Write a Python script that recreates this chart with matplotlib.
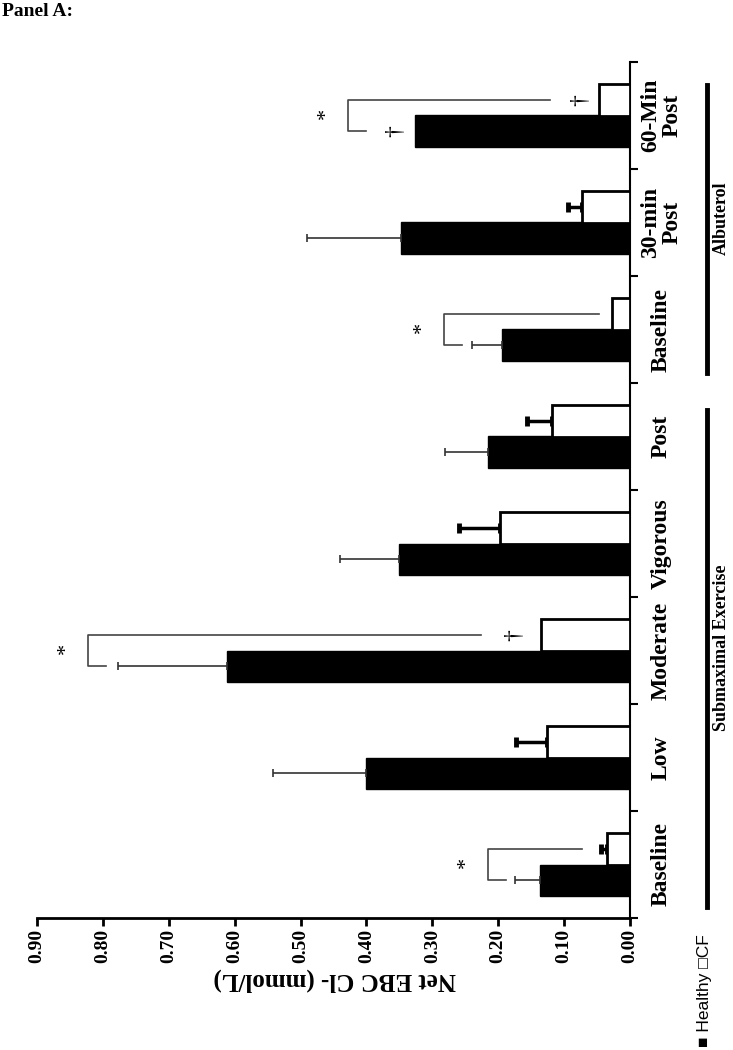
import numpy as np
import matplotlib
matplotlib.use("Agg")
import matplotlib.pyplot as plt
from matplotlib.lines import Line2D

# data
categories = ["Baseline", "Low", "Moderate", "Vigorous", "Post",
              "Baseline", "30-min\nPost", "60-Min\nPost"]
healthy = [0.137, 0.400, 0.611, 0.350, 0.215, 0.194, 0.348, 0.326]
healthy_err = [0.038, 0.142, 0.166, 0.090, 0.066, 0.046, 0.142, 0.0]
cf = [0.035, 0.126, 0.135, 0.197, 0.118, 0.027, 0.073, 0.047]
cf_err = [0.009, 0.047, 0.0, 0.063, 0.038, 0.0, 0.021, 0.0]
value_ticks = [0.0, 0.1, 0.2, 0.3, 0.4, 0.5, 0.6, 0.7, 0.8, 0.9]

# significance brackets: (category, bracket x, cf line end, healthy line end)
brackets = [(0, 0.2155, 0.073, 0.188),
            (2, 0.822, 0.226, 0.795),
            (5, 0.282, 0.047, 0.255),
            (7, 0.428, 0.121, 0.400)]
# daggers: (category, series, x)
daggers = [(2, "cf", 0.175), (7, "cf", 0.074), (7, "healthy", 0.355)]

serif = "Liberation Serif"
W, H = 733, 1050

fig = plt.figure(figsize=(W / 100, H / 100), dpi=100)
ax = fig.add_axes([37 / W, 1 - 918 / H, (630 - 37) / W, (918 - 62) / H])

n = len(categories)
pos = np.arange(n) + 0.5
off = 0.145
bh = 0.29

ax.barh(pos - off, healthy, height=bh, color="black", edgecolor="black", lw=1)
ax.barh(pos + off, cf, height=bh, color="white", edgecolor="black", lw=2, zorder=3)

for i in range(n):
    if healthy_err[i] > 0:
        ax.errorbar(healthy[i], pos[i] - off, xerr=[[0], [healthy_err[i]]],
                    fmt="none", ecolor="#333333", elinewidth=1.2, capsize=3, capthick=1.2)
    if cf_err[i] > 0:
        ax.errorbar(cf[i], pos[i] + off, xerr=[[0], [cf_err[i]]],
                    fmt="none", ecolor="black", elinewidth=2.5, capsize=3.5, capthick=3.5,
                    zorder=2)

for c, xv, xt, xb in brackets:
    yt = pos[c] + off
    yb = pos[c] - off
    ax.plot([xt, xv, xv, xb], [yt, yt, yb, yb], color="#444444", lw=1.2, clip_on=False)
    ax.text(xv + 0.033, pos[c] + 0.02, "*", rotation=90, ha="center", va="center",
            fontsize=16, family=serif, clip_on=False)

for c, s, xv in daggers:
    yv = pos[c] + off if s == "cf" else pos[c] - off
    ax.text(xv, yv, "\u2020", rotation=90, ha="center", va="center",
            fontsize=17, family=serif)

ax.set_xlim(0.9, 0)
ax.set_ylim(0, n)
for side in ["top", "left"]:
    ax.spines[side].set_visible(False)
ax.spines["bottom"].set_linewidth(2)
ax.spines["right"].set_linewidth(1.5)

ax.set_xticks(value_ticks)
ax.set_xticklabels(["%.2f" % v for v in value_ticks], rotation=90,
                   family=serif, fontweight="bold", fontsize=14)
ax.tick_params(axis="x", direction="out", length=6, width=2, pad=2)

ax.yaxis.tick_right()
ax.set_yticks(np.arange(n + 1))
ax.set_yticklabels([])
ax.tick_params(axis="y", direction="out", length=6, width=1.5)

for i, lab in enumerate(categories):
    ax.text(1.053, pos[i], lab, transform=ax.get_yaxis_transform(), rotation=90,
            ha="center", va="center", multialignment="center", linespacing=1.0,
            family=serif, fontweight="bold", fontsize=17)

# group lines and labels
fig.add_artist(Line2D([707 / W, 707 / W], [1 - 410 / H, 1 - 907 / H], color="black", lw=3.5))
fig.add_artist(Line2D([707 / W, 707 / W], [1 - 85 / H, 1 - 373 / H], color="black", lw=3.5))
fig.text(721 / W, 1 - 648 / H, "Submaximal Exercise", rotation=90, ha="center", va="center",
         family=serif, fontweight="bold", fontsize=13)
fig.text(721 / W, 1 - 218 / H, "Albuterol", rotation=90, ha="center", va="center",
         family=serif, fontweight="bold", fontsize=13)

fig.text(335 / W, 1 - 980 / H, "Net EBC Cl- (mmol/L)", rotation=180, ha="center", va="center",
         family=serif, fontweight="bold", fontsize=18)

fig.text(705 / W, 1 - 1047 / H, "\u25a0 Healthy \u25a1CF", rotation=90, ha="center", va="bottom",
         family=["Liberation Sans", "DejaVu Sans"], fontsize=12.5)

fig.text(2 / W, 1 - 3 / H, "Panel A:", ha="left", va="top",
         family=serif, fontweight="bold", fontsize=14)

fig.savefig("out.png", dpi=100)
